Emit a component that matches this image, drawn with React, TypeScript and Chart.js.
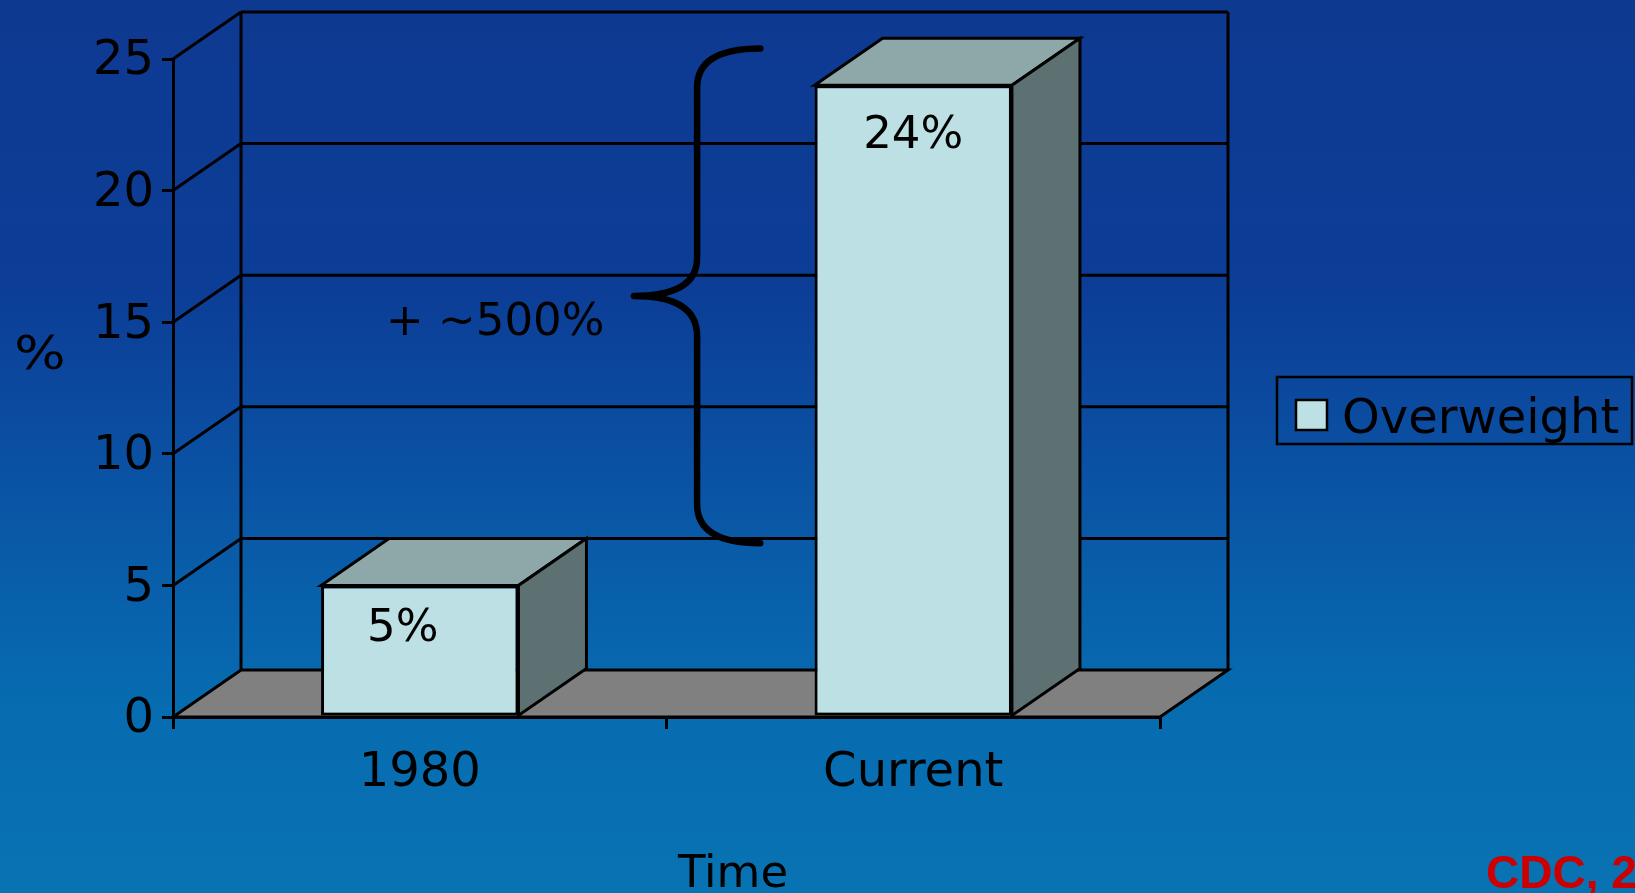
import React, { useEffect, useRef } from "react";
import { Chart, registerables } from "chart.js";

Chart.register(...registerables);

// ---- data ----
const categories = ["1980", "Current"];
const seriesLabel = "Overweight";
const overweightValues = [5, 24];
const valueLabels = ["5%", "24%"];
const yTicks = [0, 5, 10, 15, 20, 25];
const annotationText = "+ ~500%";
const yTitle = "%";
const xTitle = "Time";
const sourceText = "CDC, 2";

// ---- styles ----
const FONT = "'DejaVu Sans', Verdana, sans-serif";
const DX = 68;
const DY = 47;
const LW = 3;
const FRONT = "#bce0e3";
const TOP = "#8ea8a9";
const SIDE = "#5e7172";
const FLOOR = "#808080";

const threeD = {
  id: "threeD",
  beforeDraw(chart: any) {
    const { ctx, width, height, chartArea, scales } = chart;
    const ys = scales.y;
    ctx.save();
    const g = ctx.createLinearGradient(0, 0, 0, height);
    g.addColorStop(0, "#0e3991");
    g.addColorStop(0.33, "#0c3e97");
    g.addColorStop(0.56, "#0a55a5");
    g.addColorStop(0.78, "#076bb0");
    g.addColorStop(1, "#0873b3");
    ctx.fillStyle = g;
    ctx.fillRect(0, 0, width, height);

    const L = chartArea.left;
    const R = chartArea.right;
    const B = ys.getPixelForValue(0);
    const T = ys.getPixelForValue(yTicks[yTicks.length - 1]);

    ctx.strokeStyle = "#000";
    ctx.lineWidth = LW;
    // floor
    ctx.beginPath();
    ctx.moveTo(L, B);
    ctx.lineTo(L + DX, B - DY);
    ctx.lineTo(R + DX, B - DY);
    ctx.lineTo(R, B);
    ctx.closePath();
    ctx.fillStyle = FLOOR;
    ctx.fill();
    ctx.stroke();

    // walls
    ctx.beginPath();
    for (const v of yTicks) {
      if (v === 0) continue;
      const py = ys.getPixelForValue(v);
      ctx.moveTo(L + DX, py - DY);
      ctx.lineTo(R + DX, py - DY);
      ctx.moveTo(L, py);
      ctx.lineTo(L + DX, py - DY);
    }
    ctx.moveTo(L + DX, T - DY);
    ctx.lineTo(L + DX, B - DY);
    ctx.moveTo(R + DX, T - DY);
    ctx.lineTo(R + DX, B - DY);
    ctx.stroke();
    ctx.restore();
  },
  afterDatasetsDraw(chart: any) {
    const { ctx } = chart;
    const meta = chart.getDatasetMeta(0);
    ctx.save();
    ctx.strokeStyle = "#000";
    ctx.lineWidth = LW;
    ctx.lineJoin = "miter";
    meta.data.forEach((bar: any, i: number) => {
      const { x, y, base, width } = bar.getProps(["x", "y", "base", "width"], true);
      const x1 = x - width / 2;
      const x2 = x + width / 2;
      // top face
      ctx.beginPath();
      ctx.moveTo(x1, y);
      ctx.lineTo(x1 + DX, y - DY);
      ctx.lineTo(x2 + DX, y - DY);
      ctx.lineTo(x2, y);
      ctx.closePath();
      ctx.fillStyle = TOP;
      ctx.fill();
      ctx.stroke();
      // side face
      ctx.beginPath();
      ctx.moveTo(x2, y);
      ctx.lineTo(x2 + DX, y - DY);
      ctx.lineTo(x2 + DX, base - DY);
      ctx.lineTo(x2, base);
      ctx.closePath();
      ctx.fillStyle = SIDE;
      ctx.fill();
      ctx.stroke();
      // value label
      ctx.fillStyle = "#000";
      ctx.font = `45px ${FONT}`;
      ctx.textAlign = "center";
      ctx.textBaseline = "alphabetic";
      ctx.fillText(valueLabels[i], x - (i === 0 ? 17 : 0), y + (i === 0 ? 56 : 63));
    });
    ctx.restore();
  },
  afterDraw(chart: any) {
    const { ctx, scales } = chart;
    const xs = scales.x;
    const ys = scales.y;
    ctx.save();

    // brace annotation
    const xTip = xs.getPixelForValue(0.434);
    const xStem = xs.getPixelForValue(0.562);
    const xEnd = xs.getPixelForValue(0.69);
    const yTop = ys.getPixelForValue(25.4);
    const yTip = ys.getPixelForValue(16.0);
    const yBot = ys.getPixelForValue(6.6);
    ctx.strokeStyle = "#000";
    ctx.lineWidth = 6.5;
    ctx.lineCap = "round";
    ctx.lineJoin = "round";
    ctx.beginPath();
    ctx.moveTo(xEnd, yTop);
    ctx.quadraticCurveTo(xStem, yTop, xStem, yTop + 39);
    ctx.lineTo(xStem, yTip - 38);
    ctx.quadraticCurveTo(xStem, yTip, xTip, yTip);
    ctx.quadraticCurveTo(xStem, yTip, xStem, yTip + 40);
    ctx.lineTo(xStem, yBot - 39);
    ctx.quadraticCurveTo(xStem, yBot, xEnd, yBot);
    ctx.stroke();

    ctx.fillStyle = "#000";
    ctx.font = `45px ${FONT}`;
    ctx.textAlign = "center";
    ctx.textBaseline = "alphabetic";
    ctx.fillText(annotationText, xs.getPixelForValue(0.153), ys.getPixelForValue(14.5));

    // axis titles
    ctx.save();
    ctx.font = `47px ${FONT}`;
    ctx.textBaseline = "middle";
    ctx.translate(40, 357);
    ctx.scale(1.15, 1);
    ctx.fillText(yTitle, 0, 0);
    ctx.restore();
    ctx.textAlign = "center";
    ctx.textBaseline = "alphabetic";
    ctx.font = `45px ${FONT}`;
    ctx.fillText(xTitle, 733, 887);

    // legend
    ctx.lineWidth = 2.5;
    ctx.lineCap = "butt";
    ctx.lineJoin = "miter";
    ctx.strokeRect(1277, 377, 355, 67);
    ctx.fillStyle = FRONT;
    ctx.fillRect(1296, 400, 31, 30);
    ctx.strokeRect(1296, 400, 31, 30);
    ctx.fillStyle = "#000";
    ctx.textAlign = "left";
    ctx.font = `48px ${FONT}`;
    ctx.fillText(chart.data.datasets[0].label, 1342, 433);

    // source
    ctx.fillStyle = "#cc0000";
    ctx.font = `bold 46px 'Liberation Sans', Arial, sans-serif`;
    ctx.fillText(sourceText, 1486, 888);
    ctx.restore();
  },
};

export default function App() {
  const ref = useRef<HTMLCanvasElement | null>(null);
  useEffect(() => {
    if (!ref.current) return;
    const chart = new Chart(ref.current, {
      type: "bar",
      data: {
        labels: categories,
        datasets: [
          {
            label: seriesLabel,
            data: overweightValues,
            backgroundColor: FRONT,
            borderColor: "#000",
            borderWidth: LW,
            borderSkipped: false,
            barPercentage: 0.4,
            categoryPercentage: 1.0,
          },
        ],
      },
      options: {
        responsive: false,
        animation: false,
        devicePixelRatio: 1,
        layout: { padding: { left: 23, right: 475, top: 59, bottom: 76 } },
        plugins: { legend: { display: false }, tooltip: { enabled: false } },
        scales: {
          x: {
            type: "category",
            offset: true,
            grid: {
              display: true,
              offset: true,
              drawOnChartArea: false,
              drawTicks: true,
              tickLength: 12,
              color: "#000",
              lineWidth: LW,
            },
            border: { display: true, color: "#000", width: LW },
            ticks: {
              color: "#000",
              font: { family: FONT, size: 48 },
              padding: 16,
              maxRotation: 0,
              autoSkip: false,
            },
            afterFit: (s: any) => {
              s.height = 100;
            },
          },
          y: {
            min: 0,
            max: 25,
            afterBuildTicks: (s: any) => {
              s.ticks = yTicks.map((v) => ({ value: v }));
            },
            ticks: {
              color: "#000",
              font: { family: FONT, size: 48 },
              padding: 8,
              labelOffset: 3,
            },
            grid: {
              drawOnChartArea: false,
              drawTicks: true,
              tickLength: 11,
              color: "#000",
              lineWidth: LW,
            },
            border: { display: true, color: "#000", width: LW },
            afterFit: (s: any) => {
              s.width = 150;
            },
          },
        },
      },
      plugins: [threeD],
    });
    return () => chart.destroy();
  }, []);
  return (
    <div style={{ position: "fixed", left: 0, top: 0, width: 1635, height: 893, overflow: "hidden" }}>
      <canvas ref={ref} width={1635} height={893} style={{ display: "block" }} />
    </div>
  );
}
